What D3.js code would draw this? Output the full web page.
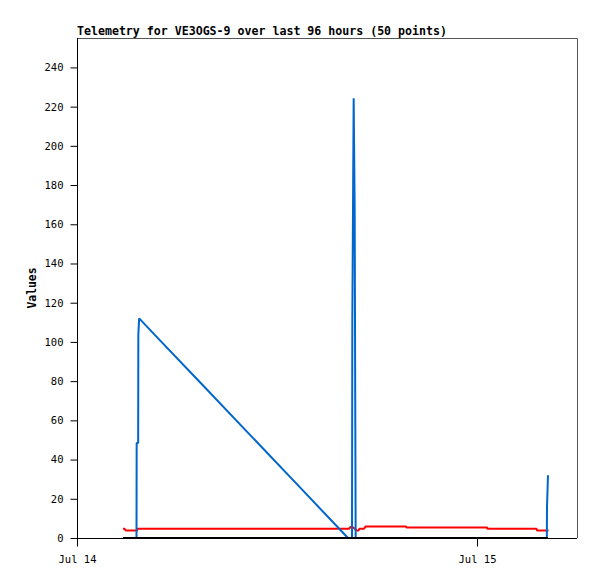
<!DOCTYPE html>
<html>
<head>
<meta charset="utf-8">
<script src="https://cdn.jsdelivr.net/npm/d3@7"></script>
<style>
  html, body { margin: 0; padding: 0; background: #fff; }
  svg { display: block; }
</style>
</head>
<body>
<div id="chart"></div>
<script>
// ---- data (hours after Jul 14 00:00 UTC) ----
const titleText = "Telemetry for VE3OGS-9 over last 96 hours (50 points)";
const yLabel = "Values";
const yTicks = [0, 20, 40, 60, 80, 100, 120, 140, 160, 180, 200, 220, 240];
const xTickLabels = ["Jul 14", "Jul 15"];

const blueHours  = [2.76, 3.57, 3.58, 3.67, 3.68, 3.73, 4.98, 7.38, 10.38, 13.38, 16.26, 16.50, 16.52, 16.60, 16.66, 16.70, 16.72, 28.19, 28.20, 28.26];
const blueValues = [0,    0,    48.5, 48.5, 104,  112,  100.8, 79.4, 52.6, 25.8,  0,     0,     112,   224.3, 168,   56,    0,     0,     16,    32];

const redHours  = [2.76, 2.85, 2.94, 3.60, 3.63, 16.32, 16.41, 16.53, 16.80, 16.89, 16.95, 17.22, 17.31, 19.74, 19.77, 24.60, 24.63, 27.57, 27.60, 28.29];
const redValues = [4.7,  4.7,  3.8,  3.8,  4.7,  4.7,   5.6,   5.6,   3.8,   3.8,   4.7,   4.7,   5.9,   5.9,   5.4,   5.4,   4.7,   4.7,   3.8,   3.8];

const blackHours  = [2.76, 28.26];
const blackValues = [0, 0];

// ---- layout ----
const W = 597, H = 579;
const mLeft = 77, mRight = 577, mTop = 38, mBottom = 538;
const t0 = Date.UTC(2024, 6, 14, 0, 0);
const toDate = h => new Date(t0 + h * 3600 * 1000);

const x = d3.scaleUtc()
  .domain([new Date(t0), new Date(Date.UTC(2024, 6, 15, 6, 0))])
  .range([mLeft, mRight]);
const y = d3.scaleLinear().domain([0, 255]).range([mBottom, mTop]);

const svg = d3.select("#chart").append("svg")
  .attr("width", W).attr("height", H);

// frame (top/right gray)
svg.append("path")
  .attr("d", `M${mLeft},${mTop + 0.5}H${mRight + 0.5}V${mBottom}`)
  .attr("fill", "none").attr("stroke", "#555").attr("stroke-width", 1);

const font = "'DejaVu Sans Mono', 'Liberation Mono', monospace";

// y axis
const yAxis = d3.axisLeft(y).tickValues(yTicks).tickSize(7).tickPadding(7);
const gy = svg.append("g").attr("transform", `translate(${mLeft + 0.5},0)`).call(yAxis);
gy.select(".domain").attr("d", `M0,${mTop}V${mBottom}`).attr("stroke", "#000");
gy.selectAll("text").attr("font-family", font).attr("font-size", 10.5).attr("fill", "#000");

// x axis
const xTickDates = [new Date(t0), new Date(Date.UTC(2024, 6, 15))];
const xAxis = d3.axisBottom(x).tickValues(xTickDates).tickSize(8).tickPadding(9)
  .tickFormat((d, i) => xTickLabels[i]);
const gx = svg.append("g").attr("transform", `translate(0,${mBottom + 0.5})`).call(xAxis);
gx.select(".domain").attr("d", `M${mLeft},0H${mRight}`).attr("stroke", "#000");
gx.selectAll("text").attr("font-family", font).attr("font-size", 10.5).attr("fill", "#000");

// series
const line = d3.line().x(d => x(toDate(d[0]))).y(d => y(d[1]));
function series(hours, values, color) {
  svg.append("path")
    .datum(hours.map((h, i) => [h, values[i]]))
    .attr("d", line)
    .attr("fill", "none")
    .attr("stroke", color)
    .attr("stroke-width", 2)
    .attr("stroke-linejoin", "bevel");
}
series(redHours, redValues, "#ff0000");
series(blueHours, blueValues, "#0066cc");
series(blackHours, blackValues, "#000000");

// title
svg.append("text")
  .attr("x", mLeft).attr("y", 35)
  .attr("font-family", font).attr("font-size", 11.6).attr("font-weight", "bold")
  .text(titleText);

// y label
svg.append("text")
  .attr("transform", `translate(36,${(mTop + mBottom) / 2}) rotate(-90)`)
  .attr("text-anchor", "middle")
  .attr("font-family", font).attr("font-size", 11.4).attr("font-weight", "bold")
  .text(yLabel);
</script>
</body>
</html>
